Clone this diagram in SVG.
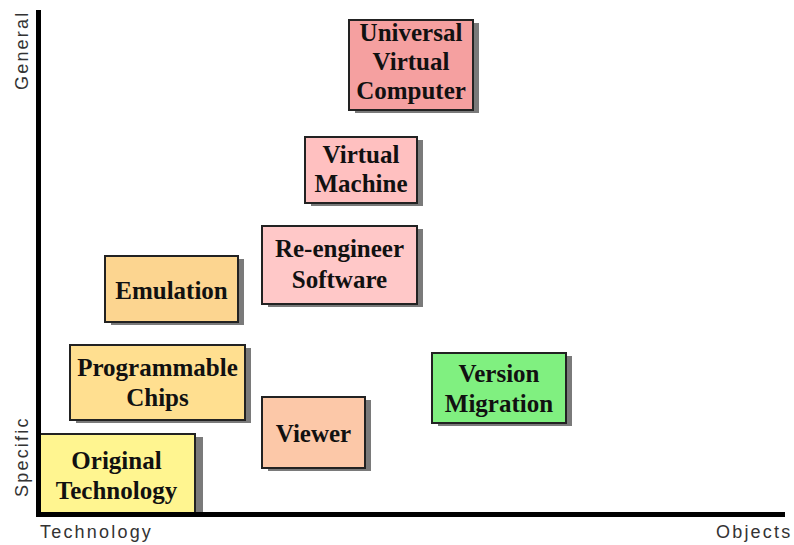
<svg xmlns="http://www.w3.org/2000/svg" width="794" height="545" viewBox="0 0 794 545">
<style>
.box{stroke:#222;stroke-width:2}
.sh{fill:#7a7a7a}
.t{font-family:"Liberation Serif","Times New Roman",serif;font-size:25px;font-weight:bold;fill:#111;text-anchor:middle}
.ax{font-family:"Liberation Sans",Arial,sans-serif;font-size:18px;fill:#333;letter-spacing:2.2px}
.axis{stroke:#000;stroke-width:5;fill:none}
</style>
<rect width="794" height="545" fill="#fff"/>
<g id="universal-virtual-computer">
<rect class="sh" x="355" y="23" width="124" height="90"/>
<rect class="box" x="349" y="20" width="124" height="90" fill="#F5A0A0"/>
<text class="t" x="411" y="41">Universal</text>
<text class="t" x="411" y="70">Virtual</text>
<text class="t" x="411" y="99">Computer</text>
</g>
<g id="virtual-machine">
<rect class="sh" x="311" y="140" width="112" height="66"/>
<rect class="box" x="305" y="137" width="112" height="66" fill="#FFC0C0"/>
<text class="t" x="361" y="163">Virtual</text>
<text class="t" x="361" y="192">Machine</text>
</g>
<g id="re-engineer-software">
<rect class="sh" x="268" y="229" width="155" height="78"/>
<rect class="box" x="262" y="226" width="155" height="78" fill="#FFC8C8"/>
<text class="t" x="339.5" y="257">Re-engineer</text>
<text class="t" x="339.5" y="288">Software</text>
</g>
<g id="emulation">
<rect class="sh" x="111" y="259" width="133" height="66"/>
<rect class="box" x="105" y="256" width="133" height="66" fill="#FCD590"/>
<text class="t" x="171.5" y="299">Emulation</text>
</g>
<g id="programmable-chips">
<rect class="sh" x="76" y="348" width="175" height="75"/>
<rect class="box" x="70" y="345" width="175" height="75" fill="#FFDF90"/>
<text class="t" x="157.5" y="376">Programmable</text>
<text class="t" x="157.5" y="406">Chips</text>
</g>
<g id="viewer">
<rect class="sh" x="268" y="400" width="103" height="71"/>
<rect class="box" x="262" y="397" width="103" height="71" fill="#FCC8A8"/>
<text class="t" x="313.5" y="442">Viewer</text>
</g>
<g id="version-migration">
<rect class="sh" x="438" y="356" width="134" height="70"/>
<rect class="box" x="432" y="353" width="134" height="70" fill="#80F080"/>
<text class="t" x="499" y="382">Version</text>
<text class="t" x="499" y="412">Migration</text>
</g>
<g id="original-technology">
<rect class="sh" x="195" y="437" width="8" height="78"/>
<rect class="box" x="38" y="434" width="157" height="81" fill="#FFF590"/>
<text class="t" x="116.5" y="469">Original</text>
<text class="t" x="116.5" y="499">Technology</text>
</g>
<g id="connectors">
<path class="axis" d="M38.5 10 V517"/>
<path class="axis" d="M36 514.5 H785"/>
</g>
<g id="axis-labels">
<text class="ax" transform="translate(28,90) rotate(-90)">General</text>
<text class="ax" transform="translate(28,497) rotate(-90)">Specific</text>
<text class="ax" x="40" y="538">Technology</text>
<text class="ax" x="716" y="538">Objects</text>
</g>
</svg>
